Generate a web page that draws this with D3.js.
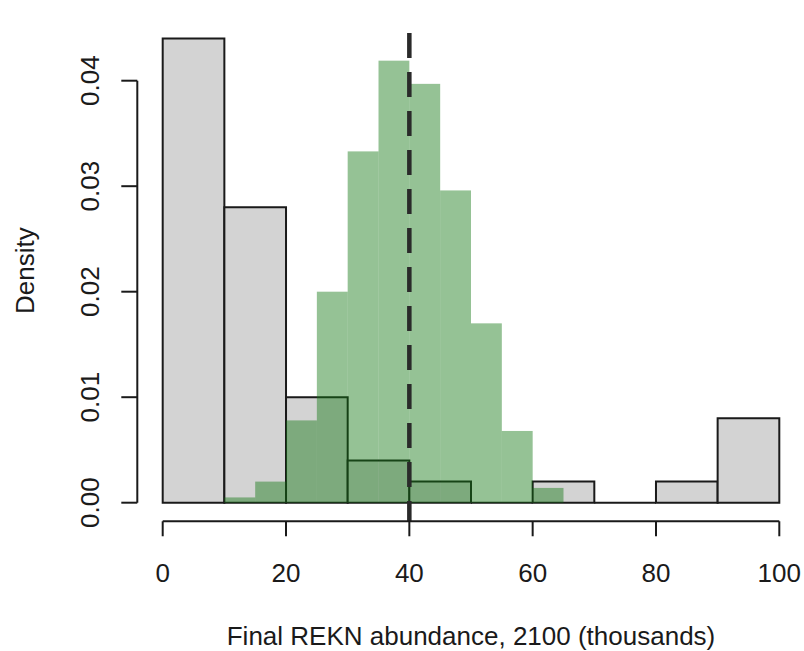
<!DOCTYPE html>
<html>
<head>
<meta charset="utf-8">
<script src="https://cdn.jsdelivr.net/npm/d3@7"></script>
<style>
  html, body { margin: 0; padding: 0; background: #ffffff; }
  svg text { font-family: "Liberation Sans", Arial, sans-serif; fill: #1a1a1a; }
</style>
</head>
<body>
<svg id="chart" width="804" height="651"></svg>
<script>
// Bin edges (thousands of birds) and densities for the two histograms
const coarseEdges = [0, 10, 20, 30, 40, 50, 60, 70, 80, 90, 100];
const coarseDensity = [0.044, 0.028, 0.010, 0.004, 0.002, 0.000, 0.002, 0.000, 0.002, 0.008];

const fineEdges = [10, 15, 20, 25, 30, 35, 40, 45, 50, 55, 60, 65];
const fineDensity = [0.0005, 0.002, 0.0078, 0.020, 0.0333, 0.0419, 0.0397, 0.0296, 0.0170, 0.0068, 0.0014];

const xTicks = [0, 20, 40, 60, 80, 100];
const yTicks = [0.00, 0.01, 0.02, 0.03, 0.04];
const referenceLine = 40;

const xLabel = "Final REKN abundance, 2100 (thousands)";
const yLabel = "Density";

const svg = d3.select("#chart");

// Plot region (data range padded by 4% on each side)
const xDomain = [0, 100];
const yDomain = [0, 0.044];
const xPad = (xDomain[1] - xDomain[0]) * 0.04;
const yPad = (yDomain[1] - yDomain[0]) * 0.04;

const x = d3.scaleLinear().domain(xDomain).range([162.7, 779.3]);
const y = d3.scaleLinear().domain([0, 0.04]).range([502.7, 80.7]);

const plotTop = y(yDomain[1] + yPad);
const plotBottom = y(yDomain[0] - yPad);

// Coarse histogram: light grey with dark outlines (zero bins still show their base)
const coarseBins = coarseDensity.map((d, i) => ({ x0: coarseEdges[i], x1: coarseEdges[i + 1], d }));
svg.append("g").selectAll("path").data(coarseBins).join("path")
  .attr("d", b => `M${x(b.x0)},${y(0)}V${y(b.d)}H${x(b.x1)}V${y(0)}Z`)
  .attr("fill", "#d3d3d3")
  .attr("stroke", "#1a1a1a")
  .attr("stroke-width", 2)
  .attr("stroke-linejoin", "miter");

// Fine histogram: translucent green, no outline
const fineBins = fineDensity.map((d, i) => ({ x0: fineEdges[i], x1: fineEdges[i + 1], d }));
svg.append("g").selectAll("rect").data(fineBins.filter(b => b.d > 0)).join("rect")
  .attr("x", b => x(b.x0))
  .attr("width", b => x(b.x1) - x(b.x0))
  .attr("y", b => y(b.d))
  .attr("height", b => y(0) - y(b.d))
  .attr("fill", "rgba(20,120,20,0.45)");

// Vertical dashed reference line
svg.append("line")
  .attr("x1", x(referenceLine)).attr("x2", x(referenceLine))
  .attr("y1", plotTop).attr("y2", plotBottom)
  .attr("stroke", "#2a2a2a")
  .attr("stroke-width", 4.5)
  .attr("stroke-dasharray", "25,14")
  .attr("stroke-dashoffset", 26);

// X axis (R style: line spans first to last tick)
const xAxisY = plotBottom;
const xAxis = svg.append("g");
xAxis.append("line")
  .attr("x1", x(xTicks[0])).attr("x2", x(xTicks[xTicks.length - 1]))
  .attr("y1", xAxisY).attr("y2", xAxisY)
  .attr("stroke", "#1a1a1a").attr("stroke-width", 2);
xAxis.selectAll("line.tick").data(xTicks).join("line")
  .attr("class", "tick")
  .attr("x1", d => x(d)).attr("x2", d => x(d))
  .attr("y1", xAxisY).attr("y2", xAxisY + 15)
  .attr("stroke", "#1a1a1a").attr("stroke-width", 2);
xAxis.selectAll("text").data(xTicks).join("text")
  .attr("x", d => x(d)).attr("y", 582)
  .attr("text-anchor", "middle")
  .attr("font-size", 26)
  .text(d => d);

// Y axis
const yAxisX = 137.3;
const yAxis = svg.append("g");
yAxis.append("line")
  .attr("x1", yAxisX).attr("x2", yAxisX)
  .attr("y1", y(yTicks[0])).attr("y2", y(yTicks[yTicks.length - 1]))
  .attr("stroke", "#1a1a1a").attr("stroke-width", 2);
yAxis.selectAll("line.tick").data(yTicks).join("line")
  .attr("class", "tick")
  .attr("x1", yAxisX - 16).attr("x2", yAxisX)
  .attr("y1", d => y(d)).attr("y2", d => y(d))
  .attr("stroke", "#1a1a1a").attr("stroke-width", 2);
yAxis.selectAll("text").data(yTicks).join("text")
  .attr("transform", d => `translate(99,${y(d)}) rotate(-90)`)
  .attr("text-anchor", "middle")
  .attr("font-size", 26)
  .text(d => d3.format(".2f")(d));

// Axis titles
svg.append("text")
  .attr("x", (x(xDomain[0] - xPad) + x(xDomain[1] + xPad)) / 2)
  .attr("y", 645)
  .attr("text-anchor", "middle")
  .attr("font-size", 26)
  .text(xLabel);

svg.append("text")
  .attr("transform", `translate(34,${(plotTop + plotBottom) / 2}) rotate(-90)`)
  .attr("text-anchor", "middle")
  .attr("font-size", 26)
  .text(yLabel);
</script>
</body>
</html>
